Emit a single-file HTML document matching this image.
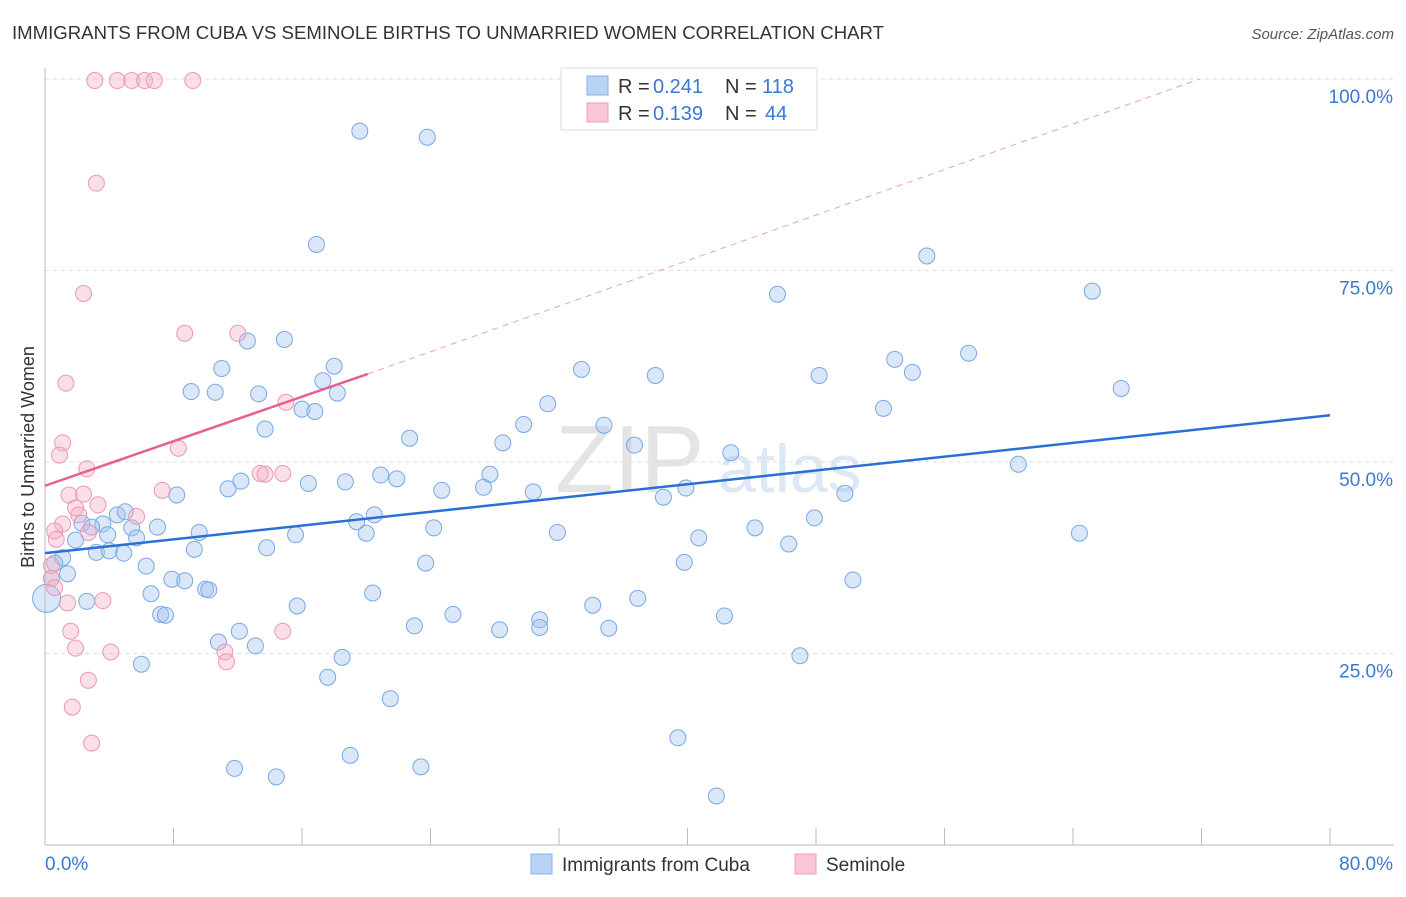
<!DOCTYPE html>
<html><head><meta charset="utf-8">
<style>
body{margin:0;background:#fff;font-family:"Liberation Sans",sans-serif;}
svg text{font-family:"Liberation Sans",sans-serif;}
</style></head>
<body>
<svg id="chart" width="1406" height="892" xmlns="http://www.w3.org/2000/svg">
<text x="12" y="39" font-size="18" fill="#333" textLength="872" lengthAdjust="spacingAndGlyphs">IMMIGRANTS FROM CUBA VS SEMINOLE BIRTHS TO UNMARRIED WOMEN CORRELATION CHART</text>
<text x="1394" y="39" font-size="15" fill="#555" text-anchor="end" font-style="italic">Source: ZipAtlas.com</text>
<text x="555" y="492" font-size="96" fill="#e4e4e4" font-family="Liberation Serif">ZIP</text>
<text x="718" y="492" font-size="68" fill="#dce8f5">atlas</text>
<text transform="translate(34,457) rotate(-90)" font-size="18" fill="#333" text-anchor="middle">Births to Unmarried Women</text>
<g id="grid"></g><g id="axes"></g><g id="marks"></g>
<g>
<rect x="561" y="68" width="256" height="62" fill="#fff" stroke="#ddd"/>
<rect x="587" y="76" width="21" height="19" fill="#b8d3f5" stroke="#88b0e6"/>
<text x="618" y="93" font-size="20" fill="#333">R =</text>
<text x="653" y="93" font-size="20" fill="#3a78d4">0.241</text>
<text x="725" y="93" font-size="20" fill="#333">N =</text>
<text x="762" y="93" font-size="20" fill="#3a78d4">118</text>
<rect x="587" y="103" width="21" height="19" fill="#f8c6d5" stroke="#eba0b8"/>
<text x="618" y="120" font-size="20" fill="#333">R =</text>
<text x="653" y="120" font-size="20" fill="#3a78d4">0.139</text>
<text x="725" y="120" font-size="20" fill="#333">N =</text>
<text x="765" y="120" font-size="20" fill="#3a78d4">44</text>
</g>
<g>
<rect x="531" y="854" width="21" height="20" fill="#b8d3f5" stroke="#88b0e6"/>
<text x="562" y="871" font-size="19" fill="#333">Immigrants from Cuba</text>
<rect x="795" y="854" width="21" height="20" fill="#f8c6d5" stroke="#eba0b8"/>
<text x="826" y="871" font-size="19" fill="#333">Seminole</text>
</g>
</svg>
<script>
const blueX=[19.6,23.8,16.9,54.9,45.6,65.2,12.6,14.9,18.0,11.0,17.3,9.1,10.6,13.3,18.2,16.0,16.8,13.7,33.4,38.0,48.2,52.9,54.0,57.5,67.0,52.2,31.3,29.8,34.8,28.5,22.7,36.7,42.7,60.6,8.2,11.4,12.2,16.4,18.7,20.9,21.9,24.7,27.3,27.7,30.4,38.5,39.9,49.8,19.4,20.5,20.0,24.2,31.9,40.7,44.2,47.9,46.3,64.4,9.6,15.6,13.8,9.3,7.0,4.5,5.0,3.6,5.4,2.3,2.9,3.9,1.9,5.7,3.2,4.0,4.9,1.1,0.6,6.3,1.4,0.4,7.9,8.7,10.0,10.2,6.6,2.6,20.4,23.7,39.8,50.3,15.7,7.2,7.5,25.4,34.1,36.9,30.8,30.8,23.0,28.3,35.1,42.3,12.1,10.8,13.1,18.5,47.0,6.0,17.6,21.5,39.4,19.0,11.8,23.4,14.4,41.8];
const blueY=[93.2,92.4,78.4,76.9,71.9,72.3,65.8,66.0,62.5,62.2,60.6,59.2,59.1,58.9,59.0,56.9,56.6,54.3,62.1,61.3,61.3,63.4,61.7,64.2,59.6,57.0,57.6,54.9,54.8,52.5,53.1,52.2,51.2,49.7,45.7,46.5,47.5,47.2,47.4,48.3,47.8,46.3,46.7,48.4,46.1,45.4,46.6,45.9,42.2,43.1,40.7,41.4,40.8,40.1,41.4,42.7,39.3,40.7,40.8,40.5,38.8,38.6,41.5,43.1,43.5,41.9,41.4,42.0,41.5,40.5,39.8,40.1,38.2,38.4,38.1,37.5,36.8,36.4,35.4,34.8,34.7,34.5,33.4,33.3,32.8,31.8,32.9,36.8,36.9,34.6,31.2,30.1,30.0,30.1,31.3,32.2,29.4,28.4,28.6,28.1,28.3,29.9,27.9,26.5,26.0,24.5,24.7,23.6,21.9,19.1,14.0,11.7,10.0,10.2,8.9,6.4];
const pinkX=[3.1,4.5,5.4,6.2,6.8,9.2,3.2,2.4,8.7,12.0,1.3,15.0,1.1,0.9,2.6,8.3,13.4,13.7,14.8,1.5,2.4,7.3,3.3,1.9,2.1,5.7,1.1,2.7,0.6,0.7,0.4,0.4,0.6,1.4,3.6,1.6,14.8,1.9,4.1,11.2,11.3,2.7,1.7,2.9];
const pinkY=[99.8,99.8,99.8,99.8,99.8,99.8,86.4,72.0,66.8,66.8,60.3,57.8,52.5,50.9,49.1,51.8,48.5,48.4,48.5,45.7,45.8,46.3,44.4,44.0,43.1,42.9,41.9,40.8,41.0,39.9,36.5,34.8,33.6,31.6,31.9,27.9,27.9,25.7,25.2,25.2,23.9,21.5,18.0,13.3];
const blueTrendX=[0,80], blueTrendY=[38.1,56.1];
const pinkTrendX=[0,20.1], pinkTrendY=[46.9,61.5];
const pinkDashX=[20.1,71.9], pinkDashY=[61.5,100];
const yTicks=[25,50,75,100];
const yTickLabels=["25.0%","50.0%","75.0%","100.0%"];
const xTicks=[0,8,16,24,32,40,48,56,64,72,80];

const NS="http://www.w3.org/2000/svg";
const X0=45,X1=1330,Y0=845,Y100=79;
const sx=v=>X0+(v/80)*(X1-X0);
const sy=v=>Y0-(v/100)*(Y0-Y100);
function mk(tag,attrs,parent){const e=document.createElementNS(NS,tag);for(const k in attrs)e.setAttribute(k,attrs[k]);parent.appendChild(e);return e;}
const grid=document.getElementById('grid'),axes=document.getElementById('axes'),marks=document.getElementById('marks');
yTicks.forEach((t,i)=>{
  const l=mk('line',{x1:X0,x2:1394,y1:sy(t),y2:sy(t),stroke:'#ddd','stroke-dasharray':'4,4'},grid);
  
  
  const tx=mk('text',{x:1393,y:sy(t)+24,'font-size':19,fill:'#3a78d4','text-anchor':'end'},axes);
  tx.textContent=yTickLabels[i];
  
  
});
const ax=mk('line',{x1:X0,x2:1394,y1:Y0,y2:Y0,stroke:'#bbb'},axes);


const ay=mk('line',{x1:X0,x2:X0,y1:68,y2:Y0,stroke:'#bbb'},axes);


xTicks.forEach(t=>{
  const l=mk('line',{x1:sx(t),x2:sx(t),y1:Y0,y2:Y0-17,stroke:'#bbb'},axes);
  
  
});
const xl0=mk('text',{x:45,y:870,'font-size':19,fill:'#3a78d4'},axes);xl0.textContent="0.0%";


const xl1=mk('text',{x:1393,y:870,'font-size':19,fill:'#3a78d4','text-anchor':'end'},axes);xl1.textContent="80.0%";



blueX.forEach((v,i)=>{
  const c=mk('circle',{cx:sx(v),cy:sy(blueY[i]),r:8,fill:'rgba(160,196,240,0.4)',stroke:'#78a8e4','stroke-width':1},marks);
  
  
});
const big=mk('circle',{cx:sx(0.1),cy:sy(32.2),r:14,fill:'rgba(160,196,240,0.4)',stroke:'#78a8e4'},marks);


pinkX.forEach((v,i)=>{
  const c=mk('circle',{cx:sx(v),cy:sy(pinkY[i]),r:8,fill:'rgba(245,175,198,0.4)',stroke:'#eb98b3','stroke-width':1},marks);
  
  
});
const bt=mk('line',{x1:sx(blueTrendX[0]),y1:sy(blueTrendY[0]),x2:sx(blueTrendX[1]),y2:sy(blueTrendY[1]),stroke:'#2a6fd6','stroke-width':2.5},marks);


const pt=mk('line',{x1:sx(pinkTrendX[0]),y1:sy(pinkTrendY[0]),x2:sx(pinkTrendX[1]),y2:sy(pinkTrendY[1]),stroke:'#e8608e','stroke-width':2.5},marks);


const pd=mk('line',{x1:sx(pinkDashX[0]),y1:sy(pinkDashY[0]),x2:sx(pinkDashX[1]),y2:sy(pinkDashY[1]),stroke:'#eaa0b8','stroke-width':1,'stroke-dasharray':'6,5'},marks);


</script>
</body></html>
